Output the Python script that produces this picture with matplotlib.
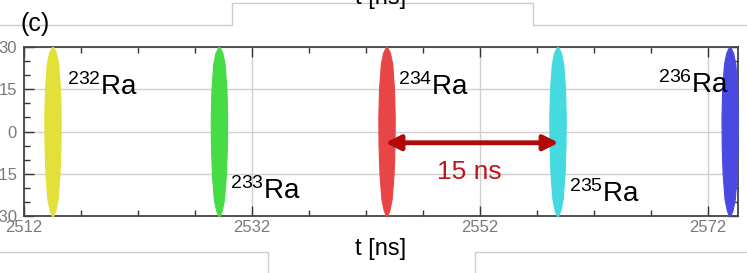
import matplotlib
matplotlib.use("Agg")
import matplotlib.pyplot as plt
from matplotlib.lines import Line2D
import numpy as np

plt.rcParams['font.family'] = ['Liberation Sans', 'DejaVu Sans']
plt.rcParams['mathtext.fontset'] = 'custom'
plt.rcParams['mathtext.rm'] = 'Liberation Sans'
plt.rcParams['mathtext.it'] = 'Liberation Sans:italic'

# isotopes and bunch centres (ns)
isotopes = ['232', '233', '234', '235', '236']
centres = [2514.5, 2529.1, 2543.8, 2558.8, 2573.9]
colores = ['#e4e03a', '#45dc45', '#e84646', '#45d9e0', '#4a4ae2']
# label positions
lab_t = [2515.8, 2530.1, 2544.8, 2559.8, 2567.6]
lab_y = [13, -24, 13, -25, 13.5]

# shape of each bunch: half width (ns) against y
perfil_y = [-30, -28, -24, -15, -5, 5, 15, 24, 28, 30]
perfil_w = [0.05, 0.25, 0.45, 0.62, 0.7, 0.72, 0.66, 0.5, 0.3, 0.05]

xticks = [2512, 2532, 2552, 2572]
yticks = [-30, -15, 0, 15, 30]

fig = plt.figure(figsize=(7.47, 2.73), dpi=100)
ax = fig.add_axes([24/747, 57/273, 714/747, 169/273])

py = np.array(perfil_y)
pw = np.array(perfil_w)
for c, col in zip(centres, colores):
    ax.fill_betweenx(py, c - pw, c + pw, color=col, lw=0.8, edgecolor=col, zorder=3, clip_on=False)

for iso, tx, ty in zip(isotopes, lab_t, lab_y):
    ax.text(tx, ty, r'$^{' + iso + r'}\mathrm{Ra}$', fontsize=20, color='black', zorder=5)

# arrow between 234 and 235
ax.annotate('', xy=(centres[2] - 0.1, -4), xytext=(centres[3] + 0.1, -4),
            arrowprops=dict(arrowstyle='<|-|>', color='#b00a0a', lw=3.5,
                            mutation_scale=22, shrinkA=0, shrinkB=0), zorder=6)
ax.text(2551.1, -14.5, '15 ns', color='#c0151e', fontsize=19, ha='center', va='center', zorder=6)

ax.set_xlim(2512, 2574.63)
ax.set_ylim(-30, 30)
ax.set_xticks(xticks)
ax.set_yticks(yticks)
ax.set_yticklabels([str(v) for v in yticks])
ax.set_xticks(np.arange(2512, 2575, 5), minor=True)
ax.set_yticks(np.arange(-30, 31, 5), minor=True)
ax.tick_params(which='both', direction='in', top=True, right=True, color='#333333',
               labelcolor='#7a7a7a', labelsize=12)
ax.tick_params(which='major', length=7, width=1)
ax.tick_params(which='minor', length=4, width=1)
ax.tick_params(axis='x', pad=3)
ax.tick_params(axis='y', pad=5)
ax.grid(True, which='major', color='#cfcfcf', lw=1, zorder=0)
for s in ax.spines.values():
    s.set_color('#444444')
    s.set_linewidth(1.3)
ax.set_xlabel('t [ns]', fontsize=17, labelpad=2)

# panel label and bits of neighbouring panels
fig.text(20/747, 1 - 31/273, '(c)', fontsize=18)
fig.text(381/747, 1 - 4/273, 't [ns]', fontsize=17, ha='center', va='baseline')
gris = '#cccccc'
def linea(xs, ys):
    fig.add_artist(Line2D(np.array(xs)/747, 1 - np.array(ys)/273, color=gris, lw=1))
linea([0, 232, 232, 533, 533, 747], [25, 25, 3, 3, 25, 25])
linea([0, 268, 268], [252, 252, 273])
linea([475, 475, 747], [273, 252, 252])

fig.savefig('out.png', dpi=100)
